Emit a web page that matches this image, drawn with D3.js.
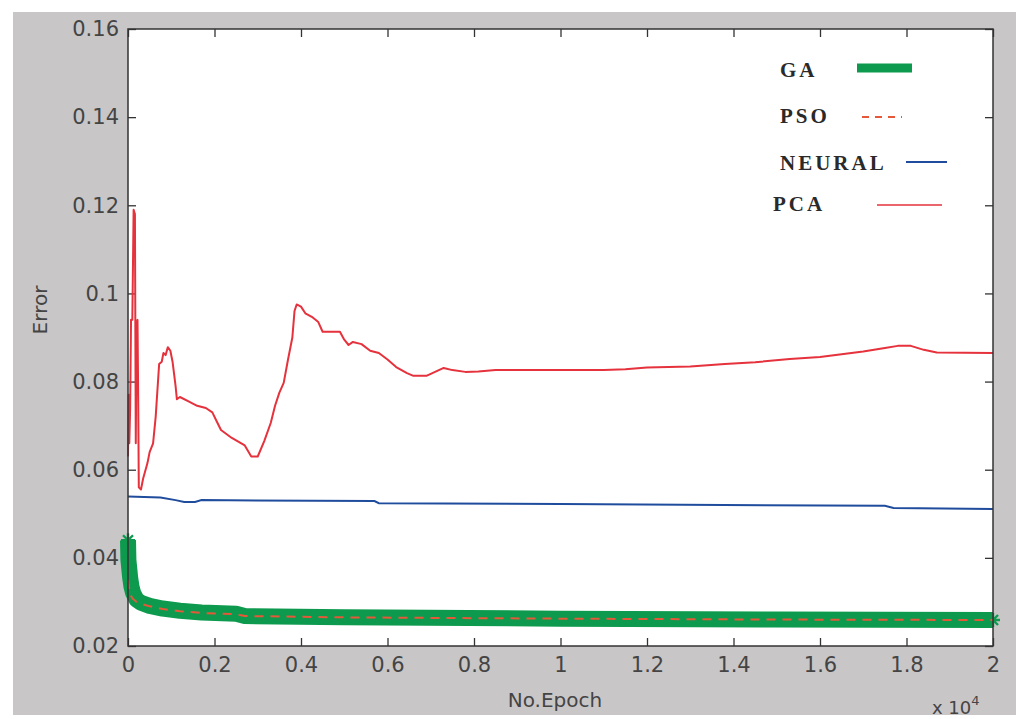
<!DOCTYPE html>
<html>
<head>
<meta charset="utf-8">
<script src="https://cdn.jsdelivr.net/npm/d3@7/dist/d3.min.js"></script>
<style>
  body { margin: 0; background: #fff; }
  svg { display: block; }
  .tick text { font-family: "DejaVu Sans", sans-serif; font-size: 21px; fill: #444; }
  .tick line { stroke: #333; stroke-width: 1.3; }
</style>
</head>
<body>
<div id="chart"></div>
<script>
// data (epochs, error)
var gaEpoch  = [0, 10, 20, 30, 50, 80, 120, 200, 300, 500, 800, 1200, 1700, 2500, 2700, 5000, 10000, 15000, 20000];
var gaError  = [0.0440, 0.0395, 0.0385, 0.0375, 0.0355, 0.0335, 0.0320, 0.0305, 0.0298, 0.0291, 0.0285, 0.0280, 0.0276, 0.0273, 0.0268, 0.0265, 0.0262, 0.0260, 0.0259];

var psoEpoch = [0, 20, 50, 100, 200, 300, 500, 800, 1200, 1700, 2500, 2700, 5000, 10000, 15000, 20000];
var psoError = [0.0350, 0.0335, 0.0318, 0.0308, 0.0300, 0.0296, 0.0290, 0.0284, 0.0279, 0.0275, 0.0272, 0.0268, 0.0265, 0.0262, 0.0260, 0.0259];

var neuralEpoch = [0, 750, 1100, 1300, 1550, 1700, 5700, 5800, 10000, 17500, 17700, 20000];
var neuralError = [0.0539, 0.0537, 0.0531, 0.0527, 0.0527, 0.0531, 0.0529, 0.0524, 0.0522, 0.0518, 0.0513, 0.0511];

var pcaEpoch = [0, 15, 30, 50, 70, 100, 130, 160, 180, 200, 220, 235, 250, 300, 350, 450, 500, 580, 640, 680,
  720, 780, 820, 870, 920, 980, 1030, 1100, 1130, 1200, 1400, 1600, 1800, 1950, 2050, 2150, 2400, 2700, 2850, 3000,
  3150, 3300, 3400, 3500, 3600, 3700, 3800, 3850, 3900, 4000, 4100, 4250, 4400, 4500, 4700, 4900, 5000, 5100, 5200, 5400,
  5600, 5800, 6000, 6200, 6450, 6600, 6900, 7100, 7300, 7500, 7800, 8100, 8500, 9000, 10000, 11000, 11500, 12000, 13000, 13800,
  14500, 15300, 16000, 16500, 17000, 17500, 17800, 18100, 18400, 18700, 20000];
var pcaError = [0.063, 0.077, 0.066, 0.074, 0.094, 0.094, 0.119, 0.118, 0.066, 0.093, 0.094, 0.077, 0.056, 0.0555, 0.058, 0.0615, 0.064, 0.066, 0.072, 0.078,
  0.084, 0.0845, 0.0865, 0.086, 0.0878, 0.087, 0.0845, 0.079, 0.076, 0.0765, 0.0755, 0.0745, 0.0740, 0.073, 0.071, 0.069, 0.0672, 0.0655, 0.063, 0.063,
  0.0665, 0.0706, 0.0745, 0.0775, 0.0797, 0.085, 0.090, 0.096, 0.0975, 0.0970, 0.0955, 0.0947, 0.0935, 0.0913, 0.0913, 0.0913, 0.0895, 0.0883, 0.0890, 0.0885,
  0.0870, 0.0865, 0.0850, 0.0833, 0.0819, 0.0813, 0.0813, 0.0822, 0.0831, 0.0826, 0.0822, 0.0823, 0.0826, 0.0826, 0.0826, 0.0826, 0.0828, 0.0832, 0.0834, 0.0840,
  0.0844, 0.0851, 0.0856, 0.0862, 0.0868, 0.0876, 0.0881, 0.0881, 0.0872, 0.0866, 0.0865];

var xTicks = [0, 2000, 4000, 6000, 8000, 10000, 12000, 14000, 16000, 18000, 20000];
var yTicks = [0.02, 0.04, 0.06, 0.08, 0.1, 0.12, 0.14, 0.16];
var legendNames = ["GA", "PSO", "NEURAL", "PCA"];

var W = 1016, H = 719;
var box = {left: 128, top: 29, right: 993, bottom: 646};

var svg = d3.select("#chart").append("svg")
  .attr("width", W).attr("height", H);

svg.append("rect").attr("width", W).attr("height", H).attr("fill", "#fff");
svg.append("rect").attr("x", 13).attr("y", 12).attr("width", W - 13).attr("height", 703).attr("fill", "#c9c6c7");
svg.append("rect")
  .attr("x", box.left).attr("y", box.top)
  .attr("width", box.right - box.left).attr("height", box.bottom - box.top)
  .attr("fill", "#fff");

var x = d3.scaleLinear().domain([0, 20000]).range([box.left, box.right]);
var y = d3.scaleLinear().domain([0.02, 0.16]).range([box.bottom, box.top]);

// axes with inward ticks, box style
var fmtX = d => String(+(d / 10000).toFixed(1));
var fmtY = d => String(+d.toFixed(2));

svg.append("g").attr("transform", `translate(0,${box.bottom})`)
  .call(d3.axisBottom(x).tickValues(xTicks).tickFormat(fmtX).tickSizeInner(-8).tickSizeOuter(0).tickPadding(11))
  .call(g => g.select(".domain").remove());
svg.append("g").attr("transform", `translate(0,${box.top})`)
  .call(d3.axisTop(x).tickValues(xTicks).tickFormat("").tickSizeInner(-8).tickSizeOuter(0))
  .call(g => g.select(".domain").remove());
svg.append("g").attr("transform", `translate(${box.left},0)`)
  .call(d3.axisLeft(y).tickValues(yTicks).tickFormat(fmtY).tickSizeInner(-8).tickSizeOuter(0).tickPadding(9))
  .call(g => g.select(".domain").remove());
svg.append("g").attr("transform", `translate(${box.right},0)`)
  .call(d3.axisRight(y).tickValues(yTicks).tickFormat("").tickSizeInner(-8).tickSizeOuter(0))
  .call(g => g.select(".domain").remove());

var line = d3.line().x(d => x(d[0])).y(d => y(d[1]));
var gaData = d3.zip(gaEpoch, gaError);
var psoData = d3.zip(psoEpoch, psoError);
var neuralData = d3.zip(neuralEpoch, neuralError);
var pcaData = d3.zip(pcaEpoch, pcaError);

var green = "#0e9a4e", psoRed = "#e5583a", blue = "#1f4c9c", pcaRed = "#e5323c";

// GA: thick line with asterisk markers
svg.append("path").datum(gaData).attr("d", line)
  .attr("fill", "none").attr("stroke", green).attr("stroke-width", 16).attr("stroke-linejoin", "round");
var star = "M-7,0H7M0,-7V7M-5,-5L5,5M-5,5L5,-5";
svg.append("g").selectAll("path").data(gaData).join("path")
  .attr("transform", d => `translate(${x(d[0])},${y(d[1])})`)
  .attr("d", star).attr("stroke", green).attr("stroke-width", 2.4).attr("fill", "none");

svg.append("path").datum(psoData).attr("d", line)
  .attr("fill", "none").attr("stroke", psoRed).attr("stroke-width", 2).attr("stroke-dasharray", "9,7");

svg.append("path").datum(neuralData).attr("d", line)
  .attr("fill", "none").attr("stroke", blue).attr("stroke-width", 2);

svg.append("path").datum(pcaData).attr("d", line)
  .attr("fill", "none").attr("stroke", pcaRed).attr("stroke-width", 2).attr("stroke-linejoin", "round");

// plot frame
svg.append("rect")
  .attr("x", box.left).attr("y", box.top)
  .attr("width", box.right - box.left).attr("height", box.bottom - box.top)
  .attr("fill", "none").attr("stroke", "#333").attr("stroke-width", 1.5);

// legend (no box)
var legendStyle = [
  {tx: 780, ty: 70, x1: 857, x2: 912, ly: 68, color: green, width: 9, dash: null},
  {tx: 780, ty: 116, x1: 862, x2: 902, ly: 117, color: psoRed, width: 1.8, dash: "7,6"},
  {tx: 780, ty: 163, x1: 906, x2: 947, ly: 162, color: blue, width: 2, dash: null},
  {tx: 773, ty: 204, x1: 877, x2: 942, ly: 205, color: pcaRed, width: 1.6, dash: null}
];
var lg = svg.append("g");
legendNames.forEach((name, i) => {
  var s = legendStyle[i];
  lg.append("text").attr("x", s.tx).attr("y", s.ty).attr("dy", "0.35em")
    .attr("font-family", "Liberation Serif, serif").attr("font-weight", "bold")
    .attr("font-size", 21).attr("letter-spacing", 3).attr("fill", "#2a2a2a").text(name);
  lg.append("line").attr("x1", s.x1).attr("x2", s.x2).attr("y1", s.ly).attr("y2", s.ly)
    .attr("stroke", s.color).attr("stroke-width", s.width).attr("stroke-dasharray", s.dash);
});

// axis titles
svg.append("text").attr("x", 555).attr("y", 707).attr("text-anchor", "middle")
  .attr("font-family", "DejaVu Sans, sans-serif").attr("font-size", 20).attr("fill", "#444")
  .text("No.Epoch");
svg.append("text").attr("transform", "translate(47,310) rotate(-90)").attr("text-anchor", "middle")
  .attr("font-family", "DejaVu Sans, sans-serif").attr("font-size", 20).attr("fill", "#444")
  .text("Error");
var mult = svg.append("text").attr("x", 932).attr("y", 714)
  .attr("font-family", "DejaVu Sans, sans-serif").attr("font-size", 18).attr("fill", "#444");
mult.append("tspan").text("x 10");
mult.append("tspan").attr("dy", -9).attr("font-size", 13).text("4");
</script>
</body>
</html>
